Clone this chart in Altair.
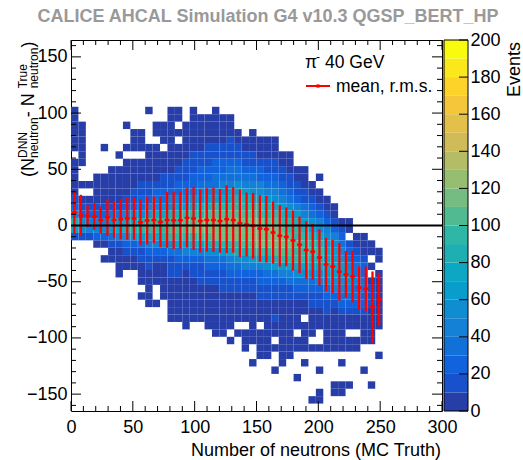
import altair as alt
import pandas as pd
import numpy as np

# ---------------- data ----------------
# 2D histogram: 50 x-bins (0..300, width 6) x 50 y-bins (-165..165, width 6.6)
# each column string lists rows from top (y=165) to bottom; char = colour level
# ('.' empty, '1' = 1-10 events, '2' = 10-20, ..., 'a' = 90-100, 'c' = 110-120)
X_BIN = 6.0
Y_BIN = 6.6
Y_TOP = 165.0
c00 = "."*9 + "111111" + "." + "11111" + "235982" + "."*23
c01 = "."*11 + "111111" + ".." + "1" + "." + "1" + "23662" + "."*23
c02 = "."*19 + "1" + "." + "1" + "23552" + "."*23
c03 = "."*18 + "1111" + "235531" + "."*22
c04 = "."*14 + "1" + "..." + "1111" + "235631" + "." + "1" + "."*20
c05 = "."*17 + "1" + "1111" + "246742" + "11" + "."*20
c06 = "."*15 + "1" + "." + "1" + "1111" + "247852" + "1111" + "."*18
c07 = "."*11 + "1" + ".." + "1" + "." + "11" + "111" + "235896" + "3211" + "."*19
c08 = "."*12 + "111" + "." + "1111" + "22" + "368973" + "211" + "."*19
c09 = "."*12 + "111" + "." + "111" + "22" + "3469a7" + "42" + "2111" + "." + "1" + "."*15
c10 = "."*9 + "1" + "...." + "11111" + "22" + "357aa8" + "53" + "22" + "11111" + "."*14
c11 = "."*11 + "11" + "." + "11111" + "23" + "458aa8" + "53" + "2111" + ".." + "1" + "."*14
c12 = "."*11 + "111" + "." + "111" + "22" + "3468aa96" + "32" + "11111" + "."*15
c13 = "."*9 + "111111111" + "22" + "3569aba6" + "4222" + "111111" + "."*12
c14 = "."*9 + "11.1.111" + "2233" + "579aba7" + "4322" + "111111" + "."*12
c15 = "."*11 + "11111" + "222" + "3457abba7" + "532" + "11111111" + "."*11
c16 = "."*9 + "111111" + "222" + "33" + "468abca8" + "5322" + "111111" + "."*12
c17 = "."*10 + "11111" + "2233" + "4569accb8" + "53222" + "11111" + "."*12
c18 = "."*10 + "1111" + "22233" + "4579bccb9" + "64322" + "111111" + "."*11
c19 = "."*9 + "11111" + "223344" + "67abccc9" + "64322" + "1111111" + "."*10
c20 = "."*10 + "1111" + "223345" + "68abccca" + "743222" + "111111" + "."*10
c21 = "."*10 + "111" + "2223445" + "78abccca" + "854322" + "11111" + "." + "1" + "."*9
c22 = "."*12 + "11" + "22344" + "679abccca9" + "64322" + "1111" + "." + "1" + "."*10
c23 = "."*13 + "11" + "22345" + "79abcccb9" + "65322" + "1111" + "." + "111" + "."*8
c24 = "."*12 + "111" + "22345" + "68abcccba7" + "5322" + "1111111" + ".." + "1" + "."*6
c25 = "."*13 + "111" + "2335" + "68aacccca8" + "53322" + "111" + "." + "1111" + "."*7
c26 = "."*13 + "111" + "2234" + "579abccca8" + "64322" + "11111111" + "."*7
c27 = "."*13 + "111" + "2234" + "568abcccb9" + "74322" + "11211" + "." + "1" + ".." + "1" + "."*5
c28 = "."*15 + "11223" + "4579abccba" + "75322" + "111111111" + "."*6
c29 = "."*15 + "11122" + "3468aabcba" + "85422" + "11111111" + "."*7
c30 = "."*17 + "1122" + "3579aabaa8" + "6432" + "1111" + "." + "11" + "..." + "1" + "."*4
c31 = "."*17 + "11122" + "4579aaaa86" + "432" + "11" + "." + "1111" + "." + "1" + "."*6
c32 = "."*19 + "11" + "234679aa98" + "64322" + "1111" + "." + "1" + "......" + "1" + "."
c33 = "."*18 + "1" + "." + "11" + "235689a986" + "5322" + "111" + ".." + "1" + ".." + "1" + ".." + "11" + "."
c34 = "."*21 + "11" + "2356788876" + "4322" + "11111" + "."*8
c35 = "."*22 + "11" + "2356778765" + "32" + "111111" + "...." + "11" + ".."
c36 = "."*24 + "1234567765" + "432" + "11111" + "." + "1" + ".." + "11" + ".."
c37 = "."*24 + "11" + "." + "2345665432" + "11" + "." + "11" + "...." + "1" + "..."
c38 = "."*26 + "1123445443" + "211" + "." + "11" + "."*8
c39 = "."*26 + "1112334433" + "21111" + "..." + "1" + "."*5
c40 = "."*27 + "11.1.12221" + "1111" + "....." + "1" + "..."
c41 = "."*28 + "11.11111111" + "..." + "1" + "."*7
columns = [c00, c01, c02, c03, c04, c05, c06, c07, c08, c09, c10, c11, c12, c13,
           c14, c15, c16, c17, c18, c19, c20, c21, c22, c23, c24, c25, c26, c27,
           c28, c29, c30, c31, c32, c33, c34, c35, c36, c37, c38, c39, c40, c41]

# profile (mean, r.m.s.)
prof_x = [2.7, 8.0, 13.4, 18.8, 24.1, 29.5, 34.8, 40.2, 45.5, 50.9, 56.2, 61.6,
          67.0, 72.3, 77.7, 83.0, 88.4, 93.8, 99.1, 104.5, 109.8, 115.2, 120.5,
          125.9, 131.2, 136.6, 142.0, 147.3, 152.7, 158.0, 163.4, 168.8, 174.1,
          179.5, 184.8, 190.2, 195.5, 200.9, 206.2, 211.6, 217.0, 222.3, 227.7,
          233.0, 238.4, 243.8, 249.1]
prof_mean = [11.5, 8.9, 8.6, 8.0, 5.0, 7.1, 5.0, 5.6, 6.3, 6.3, 2.9, 4.4, 5.0,
             3.2, 5.0, 4.7, 4.7, 6.8, 6.3, 4.1, 5.0, 5.0, 4.1, 5.6, 5.0, 2.0, 0.9,
             -0.3, -2.7, -3.3, -6.3, -9.2, -10.1, -13.4, -17.2, -21.7, -23.4,
             -28.5, -34.7, -36.5, -41.2, -43.6, -45.4, -55.4, -56.3, -72.6, -65.8]
prof_rms = [18.5, 18.4, 9.8, 11.9, 12.0, 16.3, 16.3, 17.8, 19.0, 19.0, 20.4, 21.3,
            20.7, 22.5, 24.9, 25.5, 25.2, 26.4, 28.1, 28.1, 28.1, 28.6, 28.4, 30.2,
            29.2, 30.1, 28.4, 29.3, 29.6, 29.6, 27.6, 27.3, 26.2, 26.7, 25.2, 25.6,
            24.7, 25.2, 23.7, 23.7, 25.6, 21.0, 23.0, 19.0, 19.7, 31.7, 23.7]

x_labels = [0, 50, 100, 150, 200, 250, 300]
x_minor = [10, 20, 30, 40, 60, 70, 80, 90, 110, 120, 130, 140, 160, 170, 180, 190,
           210, 220, 230, 240, 260, 270, 280, 290]
y_labels = [-150, -100, -50, 0, 50, 100, 150]
y_minor = [-160, -140, -130, -120, -110, -90, -80, -70, -60, -40, -30, -20, -10,
           10, 20, 30, 40, 60, 70, 80, 90, 110, 120, 130, 140, 160]
cb_labels = [0, 20, 40, 60, 80, 100, 120, 140, 160, 180, 200]
cb_levels = [0, 10, 20, 30, 40, 50, 60, 70, 80, 90, 100, 110, 120, 130, 140, 150,
             160, 170, 180, 190]

# ---------------- build tables ----------------
LEVEL = {ch: i + 1 for i, ch in enumerate("123456789abcdefghij")}
cells = []
for i, s in enumerate(columns):
    s = (s + "." * 50)[:50]
    for j, ch in enumerate(s):
        if ch == ".":
            continue
        top = Y_TOP - Y_BIN * j
        cells.append(dict(x0=X_BIN * i, x1=X_BIN * (i + 1), y0=top - Y_BIN, y1=top,
                          count=10 * LEVEL[ch] - 5))
hist_df = pd.DataFrame(cells)
prof_df = pd.DataFrame(dict(x=prof_x, m=prof_mean, r=prof_rms))
prof_df["lo"] = prof_df["m"] - prof_df["r"]
prof_df["hi"] = prof_df["m"] + prof_df["r"]
cb_df = pd.DataFrame(dict(lo=cb_levels, hi=[v + 10 for v in cb_levels],
                          count=[v + 5 for v in cb_levels]))

# ---------------- palette (ROOT kBird, 20 contours) ----------------
stops = [0.0, 0.125, 0.25, 0.375, 0.5, 0.625, 0.75, 0.875, 1.0]
R = [0.2082, 0.0592, 0.0780, 0.0232, 0.1802, 0.5301, 0.8186, 0.9956, 0.9764]
G = [0.1664, 0.3599, 0.5041, 0.6419, 0.7178, 0.7492, 0.7328, 0.7862, 0.9832]
B = [0.5293, 0.8684, 0.8385, 0.7914, 0.6425, 0.4662, 0.3499, 0.1968, 0.0539]
palette = []
for i in range(20):
    t = min(int((i + 0.99) * 255 / 20), 254) / 254.0
    rgb = [int(round(float(np.interp(t, stops, ch)) * 255)) for ch in (R, G, B)]
    palette.append("#%02x%02x%02x" % tuple(rgb))

FONT = "Liberation Sans"
W, H = 371, 371
xs = alt.Scale(domain=[0, 300], nice=False, zero=False)
ys = alt.Scale(domain=[-165, 165], nice=False, zero=False)
cs = alt.Scale(type="threshold", domain=cb_levels[1:], range=palette)
xaxis = alt.Axis(values=x_labels, labelFlush=False, ticks=False, tickSize=0, domain=False,
                 grid=False, title=None, labelFontSize=18, labelFont=FONT,
                 labelColor="black", labelPadding=7, labelOverlap=False)
yaxis = alt.Axis(values=y_labels, ticks=False, tickSize=0, domain=False, grid=False,
                 title=None, labelFontSize=18, labelFont=FONT, labelColor="black",
                 labelPadding=4, labelOverlap=False)

hist = alt.Chart(hist_df).mark_rect(strokeWidth=0).encode(
    x=alt.X("x0:Q", scale=xs, axis=xaxis), x2="x1:Q",
    y=alt.Y("y0:Q", scale=ys, axis=yaxis), y2="y1:Q",
    color=alt.Color("count:Q", scale=cs, legend=None))

bars = alt.Chart(prof_df).mark_rule(color="#ff0000", strokeWidth=2.3).encode(
    x=alt.X("x:Q", scale=xs, axis=xaxis),
    y=alt.Y("lo:Q", scale=ys, axis=yaxis), y2="hi:Q")
ELL = "M -1 0 A 1 0.65 0 1 0 1 0 A 1 0.65 0 1 0 -1 0 Z"
pts = alt.Chart(prof_df).mark_point(shape=ELL, filled=True, size=28, color="#ff0000",
                                    opacity=1).encode(
    x=alt.X("x:Q", scale=xs, axis=xaxis), y=alt.Y("m:Q", scale=ys, axis=yaxis))
zero = alt.Chart(pd.DataFrame(dict(v=[0]))).mark_rule(color="black", strokeWidth=2).encode(
    y=alt.Y("v:Q", scale=ys, axis=yaxis))


def xticks(vals, length):
    d = pd.DataFrame(dict(v=vals))
    b = alt.Chart(d).mark_rule(color="black", strokeWidth=1).encode(
        x=alt.X("v:Q", scale=xs, axis=xaxis), y=alt.value(H), y2=alt.value(H - length))
    t = alt.Chart(d).mark_rule(color="black", strokeWidth=1).encode(
        x=alt.X("v:Q", scale=xs, axis=xaxis), y=alt.value(0), y2=alt.value(length))
    return [b, t]


def yticks(vals, length):
    d = pd.DataFrame(dict(v=vals))
    l = alt.Chart(d).mark_rule(color="black", strokeWidth=1).encode(
        y=alt.Y("v:Q", scale=ys, axis=yaxis), x=alt.value(0), x2=alt.value(length))
    r = alt.Chart(d).mark_rule(color="black", strokeWidth=1).encode(
        y=alt.Y("v:Q", scale=ys, axis=yaxis), x=alt.value(W), x2=alt.value(W - length))
    return [l, r]


ONE = alt.Data(values=[{}])


def txt(s, x, y, size=18, angle=0, align="left", baseline="alphabetic",
        color="black", weight="normal"):
    kw = dict(font=FONT, fontSize=size, align=align, baseline=baseline,
              color=color, fontWeight=weight)
    if angle:
        kw["angle"] = angle
    return alt.Chart(ONE).mark_text(**kw).encode(
        x=alt.value(x), y=alt.value(y), text=alt.value(s))


texts = [
    txt("CALICE AHCAL Simulation G4 v10.3 QGSP_BERT_HP", 197, -18.5, size=18,
        align="center", color="#999999", weight="bold"),
    txt("Number of neutrons (MC Truth)", 370, 416, align="right"),
    # y title pieces (rotated)
    txt("(N", -37.5, 137, angle=270),
    txt("DNN", -44, 118, size=12, angle=270),
    txt("neutron", -33.5, 118, size=12, angle=270),
    txt(" - N", -37.5, 77.3, angle=270),
    txt("True", -44, 48.3, size=12, angle=270),
    txt("neutron", -33.5, 48.3, size=12, angle=270),
    txt(")", -37.5, 7.6, angle=270),
    # legend
    txt("\u03c0", 234, 28, size=17.5),
    txt("-", 245, 21, size=12),
    txt("40 GeV", 254, 28, size=17.5),
    txt("mean, r.m.s.", 265, 52, size=17.5),
    txt("Events", 449, 2, angle=270, align="right"),
]
leg_line = alt.Chart(ONE).mark_rule(color="#ff0000", strokeWidth=2).encode(
    x=alt.value(235), x2=alt.value(259), y=alt.value(46))
leg_pt = alt.Chart(ONE).mark_point(shape=ELL, filled=True, size=28, color="#ff0000",
                                   opacity=1).encode(x=alt.value(247), y=alt.value(46))

main_layers = [hist, bars, pts, zero] + xticks(x_labels, 10) + xticks(x_minor, 5) \
    + yticks(y_labels, 10) + yticks(y_minor, 5) + texts + [leg_line, leg_pt]
main = alt.layer(*main_layers)

cbs = alt.Scale(domain=[0, 200], nice=False, zero=False)
cbaxis = alt.Axis(orient="right", offset=26, values=cb_labels, ticks=False, tickSize=0,
                  domain=False, grid=False, title=None, labelFontSize=18, labelFont=FONT,
                  labelColor="black", labelPadding=2, labelOverlap=False)
cb_rects = alt.Chart(cb_df).mark_rect(strokeWidth=0).encode(
    y=alt.Y("lo:Q", scale=cbs, axis=cbaxis), y2="hi:Q",
    x=alt.value(373), x2=alt.value(397),
    color=alt.Color("count:Q", scale=cs, legend=None))
cb_ticks = alt.Chart(pd.DataFrame(dict(v=cb_labels))).mark_rule(color="black").encode(
    y=alt.Y("v:Q", scale=cbs, axis=cbaxis), x=alt.value(388), x2=alt.value(397))
cb_frame = alt.Chart(ONE).mark_rect(fillOpacity=0, stroke="black", strokeWidth=1).encode(
    x=alt.value(373), x2=alt.value(397), y=alt.value(0), y2=alt.value(H))
cbar = alt.layer(cb_rects, cb_ticks, cb_frame)

chart = alt.layer(main, cbar).resolve_scale(y="independent").properties(
    width=W, height=H,
    autosize=alt.AutoSizeParams(type="none"),
    padding={"left": 71, "top": 40, "right": 523 - 71 - W, "bottom": 460 - 40 - H},
    background="white",
).configure_view(stroke="black", strokeWidth=1)

chart.save("out.html", embed_options={"renderer": "svg", "actions": False})
